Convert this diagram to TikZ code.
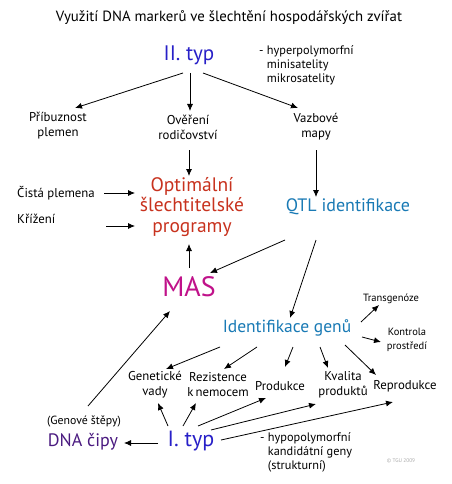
\documentclass[tikz,border=0pt]{standalone}
\usepackage{fontspec}
\setmainfont{PT Sans}
\usetikzlibrary{arrows.meta}
\definecolor{typblue}{RGB}{40,32,200}
\definecolor{optred}{RGB}{200,50,30}
\definecolor{qtlblue}{RGB}{25,122,181}
\definecolor{masmag}{RGB}{192,18,138}
\definecolor{chippurple}{RGB}{74,26,128}
\definecolor{copygray}{RGB}{170,170,170}
\tikzset{
  lbl/.style={inner sep=0pt, align=center, font=\fontsize{12.8}{15}\selectfont},
  side/.style={inner sep=0pt, align=left, anchor=north west, font=\fontsize{12.3}{14}\selectfont},
  big/.style={inner sep=0pt, align=center, font=\fontsize{18}{20.5}\selectfont},
  arr/.style={line width=0.8pt, -{Latex[length=7pt,width=6pt]}},
}
\newcommand{\at}[3]{([shift={(#2,#3)}]#1.center)}
\begin{document}
\begin{tikzpicture}[x=1pt,y=-1pt]
\useasboundingbox[fill=white] (0,0) rectangle (451,484);
% nodes
\node[inner sep=0pt, font=\fontsize{14.8}{17}\selectfont] (title) at (229,18) {Využití DNA markerů ve šlechtění hospodářských zvířat};
\node[inner sep=0pt, font=\fontsize{21}{24}\selectfont, text=typblue] (ii) at (189,55) {II. typ};
\node[side] (hyper) at (259,45) {- hyperpolymorfní\\\hphantom{- }minisatelity\\\hphantom{- }mikrosatelity};
\node[lbl] (pribuz) at (58,126) {Příbuznost\\plemen};
\node[lbl] (overeni) at (188,127) {Ověření\\rodičovství};
\node[lbl] (vazb) at (316,127) {Vazbové\\mapy};
\node[lbl, anchor=west] (cista) at (17,193) {Čistá plemena};
\node[lbl, anchor=west] (kriz) at (17,219) {Křížení};
\node[big, font=\fontsize{19.5}{20.5}\selectfont, text=optred] (opt) at (192,207) {Optimální\\šlechtitelské\\programy};
\node[big, text=qtlblue] (qtl) at (348,207) {QTL identifikace};
\node[inner sep=0pt, font=\fontsize{28}{30}\selectfont, text=masmag] (mas) at (189,287) {MAS};
\node[big, font=\fontsize{17.5}{20}\selectfont, text=qtlblue] (idg) at (287,328) {Identifikace genů};
\node[lbl, font=\fontsize{10.5}{13}\selectfont] (trans) at (391,299) {Transgenóze};
\node[lbl, font=\fontsize{10.5}{14}\selectfont] (kontr) at (407,340) {Kontrola\\prostředí};
\node[lbl] (genv) at (155,385) {Genetické\\vady};
\node[lbl] (rez) at (218,385) {Rezistence\\k\,nemocem};
\node[lbl] (prod) at (280,386) {Produkce};
\node[lbl] (kval) at (343,385) {Kvalita\\produktů};
\node[lbl] (repr) at (405,386) {Reprodukce};
\node[lbl, font=\fontsize{11.8}{14}\selectfont] (genst) at (84,421) {(Genové štěpy)};
\node[big, text=chippurple] (dnacipy) at (83,442) {DNA čipy};
\node[inner sep=0pt, font=\fontsize{22}{24}\selectfont, text=typblue] (ityp) at (191,441) {I. typ};
\node[side] (hypo) at (260,432) {- hypopolymorfní\\\hphantom{- }kandidátní geny\\\hphantom{- }(strukturní)};
\node[inner sep=0pt, font=\fontsize{5.3}{6}\selectfont, text=copygray] (copy) at (401,461) {© TGU 2009};
% connectors
\draw[arr] \at{ii}{-6}{18} -- \at{pribuz}{17}{-18};
\draw[arr] \at{ii}{1}{18} -- \at{overeni}{2}{-16};
\draw[arr] \at{ii}{14}{18} -- \at{vazb}{-18}{-19};
\draw[arr] \at{overeni}{1}{23} -- \at{opt}{-3}{-31};
\draw[arr] \at{vazb}{0}{23} -- \at{qtl}{-32}{-10};
\draw[arr] ([shift={(9,0)}]cista.east) -- \at{opt}{-57}{-14};
\draw[arr] ([shift={(51,7)}]kriz.east) -- \at{opt}{-57}{19};
\draw[arr] \at{mas}{0}{-19} -- \at{opt}{-3}{37};
\draw[arr] \at{qtl}{-63}{33} -- \at{mas}{21}{-14};
\draw[arr] \at{qtl}{-32}{33} -- \at{idg}{3}{-10};
\draw[arr] \at{idg}{74}{-6} -- \at{trans}{-12}{6};
\draw[arr] \at{idg}{75}{9} -- \at{kontr}{-26}{2};
\draw[arr] \at{idg}{-67}{19} -- \at{genv}{11}{-16};
\draw[arr] \at{idg}{-30}{19} -- \at{rez}{6}{-16};
\draw[arr] \at{idg}{6}{19} -- \at{prod}{5}{-19};
\draw[arr] \at{idg}{33}{19} -- \at{kval}{-15}{-17};
\draw[arr] \at{idg}{58}{17} -- \at{repr}{-29}{-11};
\draw[arr] \at{ityp}{-33}{2} -- \at{dnacipy}{41}{1};
\draw[arr] \at{genst}{4}{-15} -- \at{mas}{-19}{24};
\draw[arr] \at{ityp}{-23}{-15} -- \at{genv}{3}{18};
\draw[arr] \at{ityp}{-8}{-15} -- \at{rez}{-22}{18};
\draw[arr] \at{ityp}{7}{-15} -- \at{prod}{-14}{12};
\draw[arr] \at{ityp}{20}{-11} -- \at{kval}{-27}{19};
\draw[arr] \at{ityp}{30}{-1} -- \at{repr}{-12}{16};
\end{tikzpicture}
\end{document}
